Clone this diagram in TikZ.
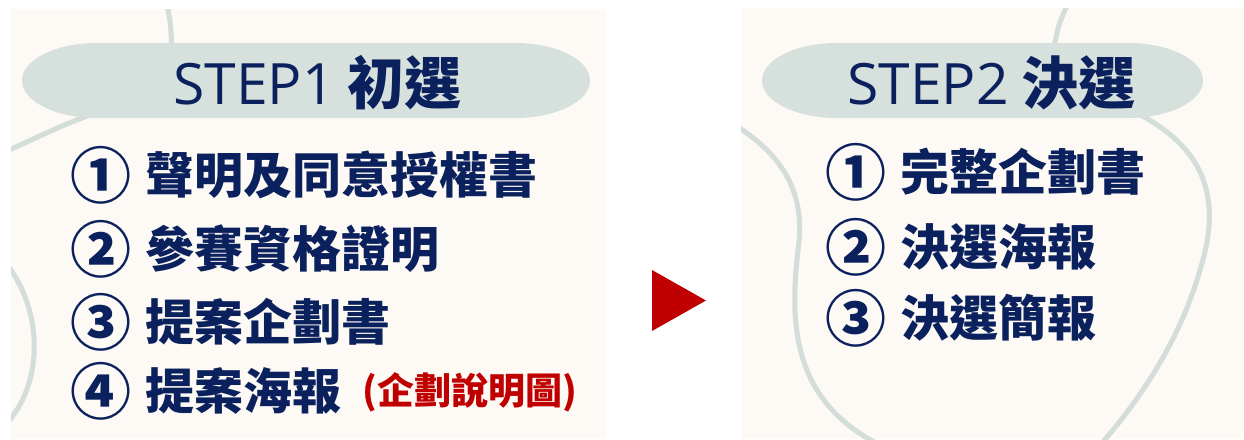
\documentclass[tikz,border=0pt]{standalone}
\usepackage{fontspec}
\setmainfont{Noto Sans CJK TC}
\newfontfamily\latinf{Open Sans}
\definecolor{panelc}{HTML}{FDF9F4}
\definecolor{pillc}{HTML}{D6E0DD}
\definecolor{decoc}{HTML}{D3DDDA}
\definecolor{navy}{HTML}{0B215E}
\definecolor{redc}{HTML}{C00000}
\begin{document}
\begin{tikzpicture}[x=1pt,y=-1pt,
  deco/.style={draw=decoc,line width=5pt,line cap=round},
  title/.style={text=navy,anchor=west,inner sep=0pt,font=\fontsize{57}{57}\selectfont},
  num/.style={text=navy,anchor=west,inner sep=0pt,font=\fontsize{61}{61}\selectfont\bfseries},
  item/.style={text=navy,anchor=west,inner sep=0pt,font=\fontsize{49}{49}\selectfont\bfseries},
  note/.style={text=redc,anchor=west,inner sep=0pt,font=\fontsize{37}{37}\selectfont\bfseries},
]
\useasboundingbox (0,0) rectangle (1244,439);
\fill[panelc] (11,9) rectangle (606,439);
\fill[panelc] (741,8) rectangle (1244,439);
\begin{scope}
\clip (11,9) rectangle (606,439);
\draw[deco] (167,5) .. controls (171,25) .. (172,60);
\draw[deco] (110,108) .. controls (70,122) .. (5,152);
\draw[deco] (5,262) .. controls (44,310) and (44,385) .. (5,425);
\end{scope}
\begin{scope}
\clip (741,8) rectangle (1244,439);
\draw[deco] (1068,4) .. controls (1058,25) .. (1052,60);
\draw[deco] (735,125) .. controls (790,160) and (805,200) .. (798,250) .. controls (790,320) and (790,400) .. (880,445);
\draw[deco] (1120,105) .. controls (1200,140) and (1225,190) .. (1200,270) .. controls (1180,340) and (1140,400) .. (1100,445);
\end{scope}
% pills
\fill[pillc] (97,43) -- (515,43) arc[start angle=-90,end angle=90,x radius=75,y radius=37.5]
  -- (97,118) arc[start angle=90,end angle=270,x radius=75,y radius=37.5] -- cycle;
\fill[pillc] (837,43) -- (1128,43) arc[start angle=-90,end angle=90,x radius=75,y radius=37.5]
  -- (837,118) arc[start angle=90,end angle=270,x radius=75,y radius=37.5] -- cycle;
% titles
\node[title] (t1) at (173,83) {{\latinf STEP1} {\bfseries 初選}};
\node[title] (t2) at (847,83) {{\latinf STEP2} {\bfseries 決選}};
% left items
\node[num] (n1) at (70,175) {①};
\node[item] (a1) at (145,175) {聲明及同意授權書};
\node[num] (n2) at (70,249) {②};
\node[item] (a2) at (145,249) {參賽資格證明};
\node[num] (n3) at (70,322) {③};
\node[item] (a3) at (145,322) {提案企劃書};
\node[num] (n4) at (70,391) {④};
\node[item] (a4) at (145,391) {提案海報};
\node[note] (note) at (362,392) {(企劃說明圖)};
% arrow
\fill[redc] (652,270) -- (706,300.5) -- (652,331) -- cycle;
% right items
\node[num] (m1) at (825,172) {①};
\node[item] (b1) at (900,172) {完整企劃書};
\node[num] (m2) at (825,247) {②};
\node[item] (b2) at (900,247) {決選海報};
\node[num] (m3) at (825,318) {③};
\node[item] (b3) at (900,318) {決選簡報};
\end{tikzpicture}
\end{document}
